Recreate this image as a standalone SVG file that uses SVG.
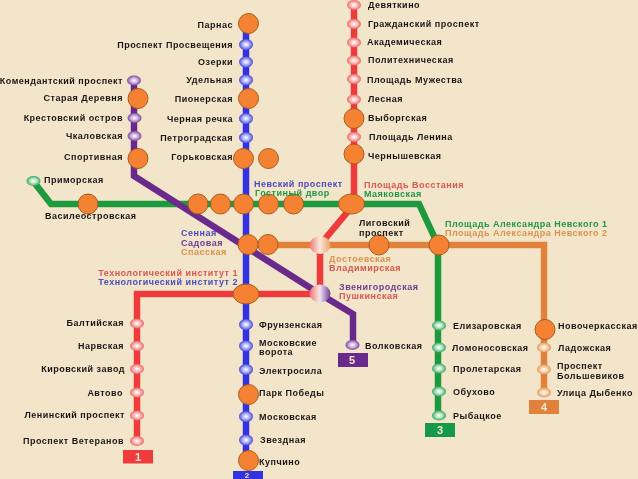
<svg xmlns="http://www.w3.org/2000/svg" width="638" height="479" viewBox="0 0 638 479">
<style>
text{font-family:"Liberation Sans",Arial,sans-serif;font-weight:700;font-size:9px;letter-spacing:.5px;fill:#1c1818}
.e{text-anchor:end}
.tb{fill:#4b4bbf}.tg{fill:#1f9a45}.tr{fill:#d8574f}.to{fill:#d8934f}.tp{fill:#6d3f94}
.num{fill:#f3e5ca;font-size:11px;text-anchor:middle;letter-spacing:0}
.big{fill:#f58231;stroke:#a65c20;stroke-width:1}
.l{fill:none;stroke-width:6.500;stroke-linejoin:miter}
.r{fill:url(#gr)}.b{fill:url(#gb)}.g{fill:url(#gg)}.o{fill:url(#go)}.p{fill:url(#gp)}
</style>
<defs>
<filter id="soft" x="0" y="0" width="100%" height="100%"><feGaussianBlur stdDeviation="0.45"/></filter>
<radialGradient id="gr"><stop offset="0" stop-color="#fff"/><stop offset=".45" stop-color="#f8c6c4"/><stop offset="1" stop-color="#ea6a68"/></radialGradient>
<radialGradient id="gb"><stop offset="0" stop-color="#fff"/><stop offset=".45" stop-color="#b9baf5"/><stop offset="1" stop-color="#4a4ae0"/></radialGradient>
<radialGradient id="gg"><stop offset="0" stop-color="#fff"/><stop offset=".45" stop-color="#bfe6c9"/><stop offset="1" stop-color="#3aa863"/></radialGradient>
<radialGradient id="go"><stop offset="0" stop-color="#fff"/><stop offset=".45" stop-color="#f9d9b8"/><stop offset="1" stop-color="#e49a5c"/></radialGradient>
<radialGradient id="gp"><stop offset="0" stop-color="#fff"/><stop offset=".45" stop-color="#d5b7e3"/><stop offset="1" stop-color="#7e4a9e"/></radialGradient>
<linearGradient id="hro"><stop offset="0" stop-color="#ee7773"/><stop offset=".47" stop-color="#fbe3d8"/><stop offset=".53" stop-color="#fbe3d8"/><stop offset="1" stop-color="#e8a060"/></linearGradient>
<linearGradient id="hrp"><stop offset="0" stop-color="#ee7773"/><stop offset=".47" stop-color="#fbe3e0"/><stop offset=".53" stop-color="#e6d8ee"/><stop offset="1" stop-color="#6d3f94"/></linearGradient>
</defs>
<rect width="638" height="479" fill="#f3e5ca"/>
<g filter="url(#soft)">
<g id="connectors">
<path class="l" stroke="#1f9a3c" d="M33 181 L51 204 H419 L438 245 V415"/>
<path class="l" stroke="#e0823a" d="M268 245 H544 V392"/>
<path class="l" stroke="#3030e0" d="M246 24 V460"/>
<path class="l" stroke="#6b2c8c" d="M134 80 V176 L320 294 L353 314 V345"/>
<path class="l" stroke="#ee3a3a" d="M354 5 V204 L320 245 V294 H137 V441"/>
</g>
<g id="line1"><rect x="123" y="450" width="30" height="13.500" fill="#ee3a3a"/><text class="num" x="138" y="461">1</text></g>
<g id="line2"><rect x="233" y="471" width="30" height="8" fill="#3030e0"/><text class="num" style="font-size:8px" x="247" y="478">2</text></g>
<g id="line3"><rect x="425" y="423" width="30" height="14" fill="#12994a"/><text class="num" x="440" y="434">3</text></g>
<g id="line4"><rect x="529" y="400" width="30" height="14" fill="#e0823a"/><text class="num" x="544" y="411">4</text></g>
<g id="line5"><rect x="338" y="353" width="30" height="14" fill="#6b2c8c"/><text class="num" x="352" y="364">5</text></g>

<g id="parnas"><circle class="big" cx="248.500" cy="23.500" r="10"/><text class="e" x="233" y="28">Парнас</text></g>
<g id="pr-prosv"><ellipse class="b" cx="246" cy="44.500" rx="7" ry="5.500"/><text class="e" x="233" y="48">Проспект Просвещения</text></g>
<g id="ozerki"><ellipse class="b" cx="246" cy="62" rx="7" ry="5.500"/><text class="e" x="233" y="65">Озерки</text></g>
<g id="udelnaya"><ellipse class="b" cx="246" cy="80" rx="7" ry="5.500"/><text class="e" x="233" y="83">Удельная</text></g>
<g id="pionerskaya"><circle class="big" cx="248.500" cy="98.500" r="10"/><text class="e" x="233" y="102">Пионерская</text></g>
<g id="chernaya"><ellipse class="b" cx="246" cy="118.500" rx="7" ry="5.500"/><text class="e" x="233" y="122">Черная речка</text></g>
<g id="petrograd"><ellipse class="b" cx="246" cy="137.500" rx="7" ry="5.500"/><text class="e" x="233" y="141">Петроградская</text></g>
<g id="gorkovskaya"><circle class="big" cx="243.500" cy="158.500" r="10"/><circle class="big" cx="268.500" cy="158.500" r="10"/><text class="e" x="233" y="160">Горьковская</text></g>

<g id="komend"><ellipse class="p" cx="134" cy="80.500" rx="7" ry="5"/><text class="e" x="123" y="84">Комендантский проспект</text></g>
<g id="staraya"><circle class="big" cx="138" cy="98.500" r="10"/><text class="e" x="123" y="101">Старая Деревня</text></g>
<g id="krest"><ellipse class="p" cx="134.500" cy="118" rx="7" ry="5"/><text class="e" x="123" y="121">Крестовский остров</text></g>
<g id="chkal"><ellipse class="p" cx="134.500" cy="136" rx="7" ry="5"/><text class="e" x="123" y="139">Чкаловская</text></g>
<g id="sport"><circle class="big" cx="138" cy="158.500" r="10"/><text class="e" x="123" y="160">Спортивная</text></g>

<g id="primorskaya"><ellipse class="g" cx="33.500" cy="181" rx="7" ry="5"/><text x="44" y="183">Приморская</text></g>
<g id="vasileo"><circle class="big" cx="88" cy="204" r="10"/><text x="45" y="219">Василеостровская</text></g>
<g id="gostiny">
<circle class="big" cx="198" cy="204" r="10"/><circle class="big" cx="220.500" cy="204" r="10"/><circle class="big" cx="268.500" cy="204" r="10"/><circle class="big" cx="293.500" cy="204" r="10"/><circle class="big" cx="243.500" cy="204" r="10"/>
<text class="tb" x="254" y="187">Невский проспект</text><text class="tg" x="255" y="196">Гостиный двор</text></g>
<g id="vosstaniya"><ellipse class="big" cx="351.500" cy="204" rx="13" ry="10"/><text class="tr" x="364" y="188">Площадь Восстания</text><text class="tg" x="364" y="197">Маяковская</text></g>
<g id="ligovsky"><circle class="big" cx="379" cy="245" r="10"/><text x="359" y="226">Лиговский</text><text x="359" y="236">проспект</text></g>
<g id="alex"><circle class="big" cx="439" cy="245" r="10"/><text class="tg" x="445" y="227">Площадь Александра Невского 1</text><text class="to" x="445" y="236">Площадь Александра Невского 2</text></g>
<g id="sennaya"><circle class="big" cx="248" cy="244.500" r="10"/><circle class="big" cx="268" cy="244.500" r="10"/><text class="tb" x="181" y="236">Сенная</text><text class="tp" x="181" y="246">Садовая</text><text class="to" x="181" y="255">Спасская</text></g>
<g id="dostoevskaya"><ellipse cx="320" cy="245" rx="10.500" ry="9" fill="url(#hro)"/><text class="to" x="329" y="262">Достоевская</text><text class="tr" x="329" y="271">Владимирская</text></g>
<g id="pushkinskaya"><ellipse cx="320" cy="293.500" rx="10.500" ry="9" fill="url(#hrp)"/><text class="tp" x="339" y="290">Звенигородская</text><text class="tr" x="339" y="299">Пушкинская</text></g>
<g id="tech"><ellipse class="big" cx="246" cy="294" rx="13" ry="10"/><text class="tr e" x="238" y="276">Технологический институт 1</text><text class="tb e" x="238" y="285">Технологический институт 2</text></g>

<g id="baltic"><ellipse class="r" cx="137" cy="323.500" rx="7" ry="5"/><text class="e" x="124" y="326">Балтийская</text></g>
<g id="narva"><ellipse class="r" cx="137" cy="346" rx="7" ry="5"/><text class="e" x="124" y="349">Нарвская</text></g>
<g id="kirov"><ellipse class="r" cx="137" cy="369" rx="7" ry="5"/><text class="e" x="125" y="372">Кировский завод</text></g>
<g id="avtovo"><ellipse class="r" cx="137" cy="392.500" rx="7" ry="5"/><text class="e" x="123" y="396">Автово</text></g>
<g id="leninsky"><ellipse class="r" cx="137" cy="415.500" rx="7" ry="5"/><text class="e" x="125" y="418">Ленинский проспект</text></g>
<g id="veteranov"><ellipse class="r" cx="137" cy="441" rx="7" ry="5"/><text class="e" x="124" y="444">Проспект Ветеранов</text></g>

<g id="frunze"><ellipse class="b" cx="246" cy="324.500" rx="7" ry="5.500"/><text x="259" y="328">Фрунзенская</text></g>
<g id="moskvorota"><ellipse class="b" cx="246" cy="346" rx="7" ry="5.500"/><text x="259" y="346">Московские</text><text x="259" y="355">ворота</text></g>
<g id="elektro"><ellipse class="b" cx="246" cy="369.500" rx="7" ry="5.500"/><text x="259" y="374">Электросила</text></g>
<g id="park"><circle class="big" cx="248.500" cy="394.500" r="10"/><text x="259" y="396">Парк Победы</text></g>
<g id="moskovskaya"><ellipse class="b" cx="246" cy="416.500" rx="7" ry="5.500"/><text x="259" y="420">Московская</text></g>
<g id="zvezdnaya"><ellipse class="b" cx="246" cy="440" rx="7" ry="5.500"/><text x="260" y="443">Звездная</text></g>
<g id="kupchino"><circle class="big" cx="248.500" cy="460.500" r="10"/><text x="259" y="465">Купчино</text></g>

<g id="volkovskaya"><ellipse class="p" cx="352.500" cy="345" rx="7" ry="5"/><text x="365" y="349">Волковская</text></g>

<g id="elizar"><ellipse class="g" cx="439" cy="325.500" rx="7" ry="5"/><text x="453" y="329">Елизаровская</text></g>
<g id="lomon"><ellipse class="g" cx="439" cy="347.500" rx="7" ry="5"/><text x="452" y="351">Ломоносовская</text></g>
<g id="prolet"><ellipse class="g" cx="439" cy="368.500" rx="7" ry="5"/><text x="453" y="372">Пролетарская</text></g>
<g id="obuhovo"><ellipse class="g" cx="439" cy="391.500" rx="7" ry="5"/><text x="453" y="395">Обухово</text></g>
<g id="rybatskoe"><ellipse class="g" cx="439" cy="415.500" rx="7" ry="5"/><text x="453" y="419">Рыбацкое</text></g>

<g id="novocherk"><circle class="big" cx="545" cy="329.500" r="10"/><text x="558" y="329">Новочеркасская</text></g>
<g id="ladozh"><ellipse class="o" cx="544" cy="347.500" rx="7" ry="5"/><text x="558" y="351">Ладожская</text></g>
<g id="bolshevikov"><ellipse class="o" cx="544" cy="369.500" rx="7" ry="5"/><text x="557" y="369">Проспект</text><text x="557" y="379">Большевиков</text></g>
<g id="dybenko"><ellipse class="o" cx="544" cy="392.500" rx="7" ry="5"/><text x="557" y="396">Улица Дыбенко</text></g>

<g id="devyatkino"><ellipse class="r" cx="354" cy="5" rx="7" ry="5"/><text x="368" y="8">Девяткино</text></g>
<g id="grazhd"><ellipse class="r" cx="354" cy="24" rx="7" ry="5"/><text x="368" y="27">Гражданский проспект</text></g>
<g id="akadem"><ellipse class="r" cx="354" cy="42.500" rx="7" ry="5"/><text x="367" y="45">Академическая</text></g>
<g id="politech"><ellipse class="r" cx="354" cy="60.500" rx="7" ry="5"/><text x="368" y="63">Политехническая</text></g>
<g id="muzhestva"><ellipse class="r" cx="354" cy="79" rx="7" ry="5"/><text x="367" y="83">Площадь Мужества</text></g>
<g id="lesnaya"><ellipse class="r" cx="354" cy="99.500" rx="7" ry="5"/><text x="368" y="102">Лесная</text></g>
<g id="vyborg"><circle class="big" cx="354" cy="118.500" r="10"/><text x="368" y="121">Выборгская</text></g>
<g id="lenina"><ellipse class="r" cx="354" cy="137" rx="7" ry="5"/><text x="369" y="140">Площадь Ленина</text></g>
<g id="chern"><circle class="big" cx="354" cy="154" r="10"/><text x="368" y="159">Чернышевская</text></g>
</g>
</svg>
